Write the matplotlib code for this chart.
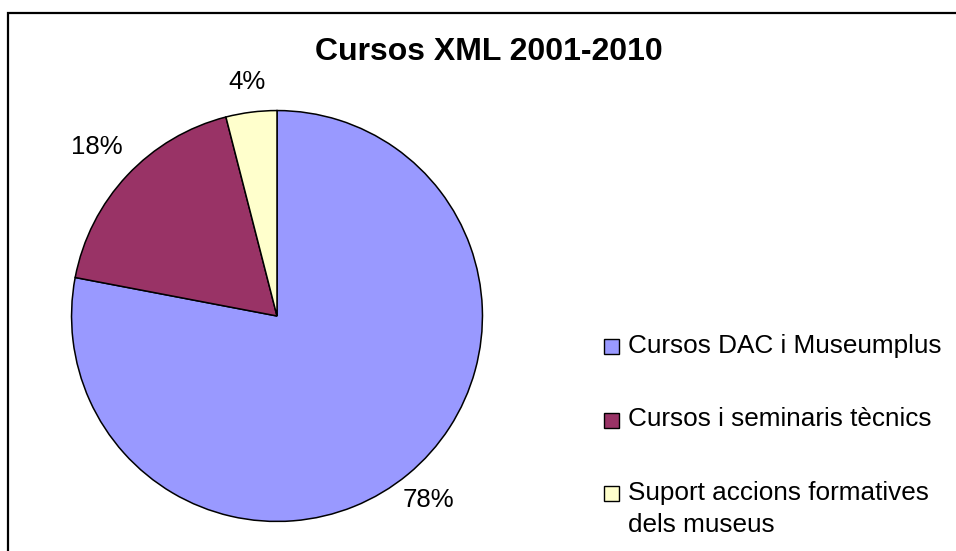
import numpy as np
import matplotlib.pyplot as plt
from matplotlib.patches import Rectangle

plt.rcParams['font.family'] = ['Liberation Sans', 'DejaVu Sans']

# data
categories = ["Cursos DAC i Museumplus", "Cursos i seminaris tècnics",
              "Suport accions formatives\ndels museus"]
shares = [78, 18, 4]
colors = ["#9999FF", "#993366", "#FFFFCC"]
title = "Cursos XML 2001-2010"

W, H = 956, 551
fig = plt.figure(figsize=(W / 100, H / 100), dpi=100)

# outer chart frame (right / bottom edges are cut off in the original)
fig.patches.append(Rectangle((8 / W, -0.05), 1.1, 1.05 - 13 / H,
                             transform=fig.transFigure, fill=False,
                             edgecolor="black", linewidth=1.6))

ax = fig.add_axes([69 / W, 27.5 / H, 416 / W, 415 / H])
wedges, texts = ax.pie(shares, colors=colors, startangle=90, counterclock=False,
                       radius=1, wedgeprops=dict(edgecolor="black", linewidth=1.1))
ax.set_xlim(-1.01, 1.01)
ax.set_ylim(-1.01, 1.01)
ax.set_aspect("equal")

# percentage labels outside the pie
label_dist = [1.16, 1.20, 1.15]
for w, v, d in zip(wedges, shares, label_dist):
    ang = np.deg2rad((w.theta1 + w.theta2) / 2)
    ax.text(d * np.cos(ang), d * np.sin(ang), f"{v}%", ha="center", va="center",
            fontsize=18.5, clip_on=False)

fig.text(489 / W, 1 - 52 / H, title, ha="center", va="center",
         fontsize=23, fontweight="bold")

# legend on the right (one baseline per text line, like the original)
step = 73.5
line_gap = 32
for i, (lab, c) in enumerate(zip(categories, colors)):
    box_mid = 346.5 + i * step
    base = 353 + i * step
    fig.patches.append(Rectangle((604 / W, 1 - (box_mid + 7.5) / H), 15 / W, 15 / H,
                                 transform=fig.transFigure, facecolor=c,
                                 edgecolor="black", linewidth=1.0))
    for j, line in enumerate(lab.split("\n")):
        fig.text(627.5 / W, 1 - (base + j * line_gap) / H, line, ha="left",
                 va="baseline", fontsize=18.8)

fig.savefig("out.png", dpi=100)
